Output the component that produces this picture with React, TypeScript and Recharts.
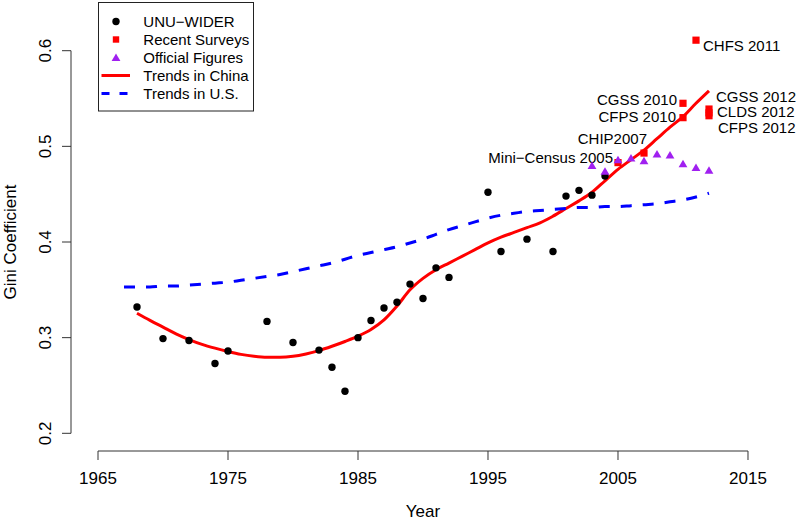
import React from 'react';
import { ComposedChart, Scatter, Line, XAxis, YAxis, ReferenceLine, Label } from 'recharts';

const FONT = '"Liberation Sans", Arial, Helvetica, sans-serif';

// UNU-WIDER points
const widerYears = [1968, 1970, 1972, 1974, 1975, 1978, 1980, 1982, 1983, 1984, 1985, 1986, 1987, 1988, 1989, 1990, 1991, 1992, 1995, 1996, 1998, 2000, 2001, 2002, 2003, 2004];
const widerGini = [0.332, 0.299, 0.297, 0.273, 0.286, 0.317, 0.295, 0.287, 0.269, 0.244, 0.300, 0.318, 0.331, 0.337, 0.356, 0.341, 0.373, 0.363, 0.452, 0.390, 0.403, 0.390, 0.448, 0.454, 0.449, 0.469];

// Recent surveys
const surveyLabels = ['Mini−Census 2005', 'CHIP2007', 'CGSS 2010', 'CFPS 2010', 'CHFS 2011', 'CGSS 2012', 'CLDS 2012', 'CFPS 2012'];
const surveyYears = [2005, 2007, 2010, 2010, 2011, 2012, 2012, 2012];
const surveyGini = [0.483, 0.493, 0.545, 0.530, 0.611, 0.539, 0.535, 0.532];

// Official figures
const officialYears = [2003, 2004, 2005, 2006, 2007, 2008, 2009, 2010, 2011, 2012];
const officialGini = [0.480, 0.474, 0.486, 0.488, 0.485, 0.492, 0.491, 0.482, 0.478, 0.475];

// Trend in China
const chinaYears = [1968, 1969, 1970, 1971, 1972, 1973, 1974, 1975, 1976, 1977, 1978, 1979, 1980, 1981, 1982, 1983, 1984, 1985, 1986, 1987, 1988, 1989, 1990, 1991, 1992, 1993, 1994, 1995, 1996, 1997, 1998, 1999, 2000, 2001, 2002, 2003, 2004, 2005, 2006, 2007, 2008, 2009, 2010, 2011, 2012];
const chinaTrend = [0.3255, 0.318, 0.311, 0.304, 0.298, 0.293, 0.289, 0.2855, 0.2825, 0.2805, 0.2795, 0.2795, 0.2805, 0.2830, 0.2865, 0.2910, 0.2960, 0.3015, 0.3085, 0.3185, 0.333, 0.350, 0.362, 0.371, 0.378, 0.385, 0.392, 0.399, 0.405, 0.410, 0.415, 0.420, 0.427, 0.435, 0.443, 0.452, 0.464, 0.476, 0.486, 0.496, 0.508, 0.520, 0.531, 0.545, 0.558];

// Trend in U.S.
const usYears = [1967, 1968, 1969, 1970, 1971, 1972, 1973, 1974, 1975, 1976, 1977, 1978, 1979, 1980, 1981, 1982, 1983, 1984, 1985, 1986, 1987, 1988, 1989, 1990, 1991, 1992, 1993, 1994, 1995, 1996, 1997, 1998, 1999, 2000, 2001, 2002, 2003, 2004, 2005, 2006, 2007, 2008, 2009, 2010, 2011, 2012];
const usTrend = [0.353, 0.353, 0.353, 0.354, 0.354, 0.355, 0.356, 0.357, 0.358, 0.360, 0.362, 0.364, 0.366, 0.369, 0.372, 0.375, 0.378, 0.382, 0.386, 0.389, 0.392, 0.395, 0.399, 0.403, 0.408, 0.413, 0.417, 0.421, 0.425, 0.428, 0.430, 0.432, 0.433, 0.434, 0.435, 0.436, 0.436, 0.437, 0.437, 0.438, 0.439, 0.440, 0.442, 0.444, 0.447, 0.451];

const xTicks = [1965, 1975, 1985, 1995, 2005, 2015];
const yTicks = [0.2, 0.3, 0.4, 0.5, 0.6];

const legendItems = [
  { name: 'UNU−WIDER', kind: 'dot', color: '#000000' },
  { name: 'Recent Surveys', kind: 'square', color: '#FF0000' },
  { name: 'Official Figures', kind: 'triangle', color: '#A020F0' },
  { name: 'Trends in China', kind: 'line', color: '#FF0000' },
  { name: 'Trends in U.S.', kind: 'dash', color: '#0000FF' },
];

// label placement for survey annotations (anchor, dx, dy)
const labelPlacement: Record<string, [string, number, number]> = {
  'Mini−Census 2005': ['end', -5, -5],
  'CHIP2007': ['end', 3, -14],
  'CGSS 2010': ['end', -6, -4],
  'CFPS 2010': ['end', -7, -1],
  'CHFS 2011': ['start', 7, 5],
  'CGSS 2012': ['start', 7, -12.5],
  'CLDS 2012': ['start', 8, -1],
  'CFPS 2012': ['start', 9, 12],
};

const widerData = widerYears.map((y, i) => ({ year: y, gini: widerGini[i] }));
const surveyData = surveyYears.map((y, i) => ({ year: y, gini: surveyGini[i], label: surveyLabels[i] }));
const officialData = officialYears.map((y, i) => ({ year: y, gini: officialGini[i] }));
const chinaData = chinaYears.map((y, i) => ({ year: y, gini: chinaTrend[i] }));
const usData = usYears.map((y, i) => ({ year: y, gini: usTrend[i] }));

const X_DOMAIN: [number, number] = [1962.923, 2017.077];
const Y_DOMAIN: [number, number] = [0.1815, 0.6185];

const DotShape = (p: any) => <circle cx={p.cx} cy={p.cy} r={3.7} fill="#000" />;

const SquareShape = (p: any) => {
  const pl = labelPlacement[p.payload?.label] || ['start', 7, 0];
  return (
    <g>
      <rect x={p.cx - 3.6} y={p.cy - 3.6} width={7.2} height={7.2} fill="#FF0000" />
      <text x={p.cx + pl[1]} y={p.cy + pl[2] + 5.4} textAnchor={pl[0] as any} fontSize={15} fontFamily={FONT} fill="#000">
        {p.payload?.label}
      </text>
    </g>
  );
};

const TriShape = (p: any) => (
  <path d={`M${p.cx},${p.cy - 3.9} L${p.cx + 4.4},${p.cy + 3.6} L${p.cx - 4.4},${p.cy + 3.6} Z`} fill="#A020F0" />
);

const XTick = (p: any) => (
  <text x={p.x} y={p.y + 12.2} textAnchor="middle" fontSize={17} fontFamily={FONT} fill="#000">
    {p.payload.value}
  </text>
);

const YTick = (p: any) => (
  <text x={p.x} y={p.y} transform={`rotate(-90 ${p.x} ${p.y})`} textAnchor="middle" fontSize={17} fontFamily={FONT} fill="#000">
    {Number(p.payload.value).toFixed(1)}
  </text>
);

const XTitle = (p: any) => {
  const vb = p.viewBox || { x: 71, y: 451, width: 704, height: 69 };
  return (
    <text x={vb.x + vb.width / 2} y={vb.y + 66} textAnchor="middle" fontSize={17} fontFamily={FONT} fill="#000">Year</text>
  );
};

const YTitle = (p: any) => {
  const vb = p.viewBox || { x: 11, y: 33, width: 60, height: 418 };
  const cx = vb.x + 5;
  const cy = vb.y + vb.height / 2;
  return (
    <text x={cx} y={cy} transform={`rotate(-90 ${cx} ${cy})`} textAnchor="middle" fontSize={17} fontFamily={FONT} fill="#000">Gini Coefficient</text>
  );
};

const LegendBox = () => (
  <svg width={158} height={112} style={{ position: 'absolute', left: 97, top: 1, overflow: 'visible' }}>
    <rect x={1.5} y={1.5} width={155} height={108.5} fill="#fff" stroke="#222" strokeWidth={1} />
    {legendItems.map((it, i) => {
      const cy = 20.5 + i * 18;
      let mark: any = null;
      if (it.kind === 'dot') mark = <circle cx={19} cy={cy} r={3.7} fill={it.color} />;
      else if (it.kind === 'square') mark = <rect x={15.8} y={cy - 3.2} width={6.4} height={6.4} fill={it.color} />;
      else if (it.kind === 'triangle') mark = <path d={`M19,${cy - 3.9} L23.4,${cy + 3.6} L14.6,${cy + 3.6} Z`} fill={it.color} />;
      else if (it.kind === 'line') mark = <line x1={4.5} x2={33} y1={cy} y2={cy} stroke={it.color} strokeWidth={3} />;
      else mark = <line x1={4.5} x2={33} y1={cy} y2={cy} stroke={it.color} strokeWidth={3} strokeDasharray="8 10" />;
      return (
        <g key={it.name}>
          {mark}
          <text x={46.3} y={cy + 5.4} fontSize={15} fontFamily={FONT} fill="#000">{it.name}</text>
        </g>
      );
    })}
  </svg>
);

export default function App() {
  return (
    <div style={{ position: 'absolute', left: 0, top: 0, width: 796, height: 520, background: '#fff' }}>
      <ComposedChart width={796} height={520} margin={{ top: 33, right: 21, bottom: 0, left: 11 }} style={{ overflow: 'visible' }}>
        <XAxis
          type="number"
          dataKey="year"
          domain={X_DOMAIN}
          ticks={xTicks}
          axisLine={false}
          tickLine={{ stroke: '#333', strokeWidth: 1 }}
          tickSize={9}
          tickMargin={12}
          tick={<XTick />}
          height={69}
          label={<Label content={<XTitle />} />}
        />
        <YAxis
          type="number"
          domain={Y_DOMAIN}
          ticks={yTicks}
          axisLine={false}
          tickLine={{ stroke: '#333', strokeWidth: 1 }}
          tickSize={9}
          tickMargin={11}
          tick={<YTick />}
          width={60}
          label={<Label content={<YTitle />} />}
        />
        <ReferenceLine segment={[{ x: 1965, y: Y_DOMAIN[0] }, { x: 2015, y: Y_DOMAIN[0] }]} stroke="#333" strokeWidth={1} ifOverflow="visible" />
        <ReferenceLine segment={[{ x: X_DOMAIN[0], y: 0.2 }, { x: X_DOMAIN[0], y: 0.6 }]} stroke="#333" strokeWidth={1} ifOverflow="visible" />
        <Scatter data={widerData} dataKey="gini" shape={DotShape} isAnimationActive={false} />
        <Scatter data={surveyData} dataKey="gini" shape={SquareShape} isAnimationActive={false} />
        <Scatter data={officialData} dataKey="gini" shape={TriShape} isAnimationActive={false} />
        <Line data={chinaData} dataKey="gini" type="monotone" stroke="#FF0000" strokeWidth={3} dot={false} activeDot={false} isAnimationActive={false} />
        <Line data={usData} dataKey="gini" type="monotone" stroke="#0000FF" strokeWidth={3} strokeDasharray="11 11" dot={false} activeDot={false} isAnimationActive={false} />
      </ComposedChart>
      <LegendBox />
    </div>
  );
}
